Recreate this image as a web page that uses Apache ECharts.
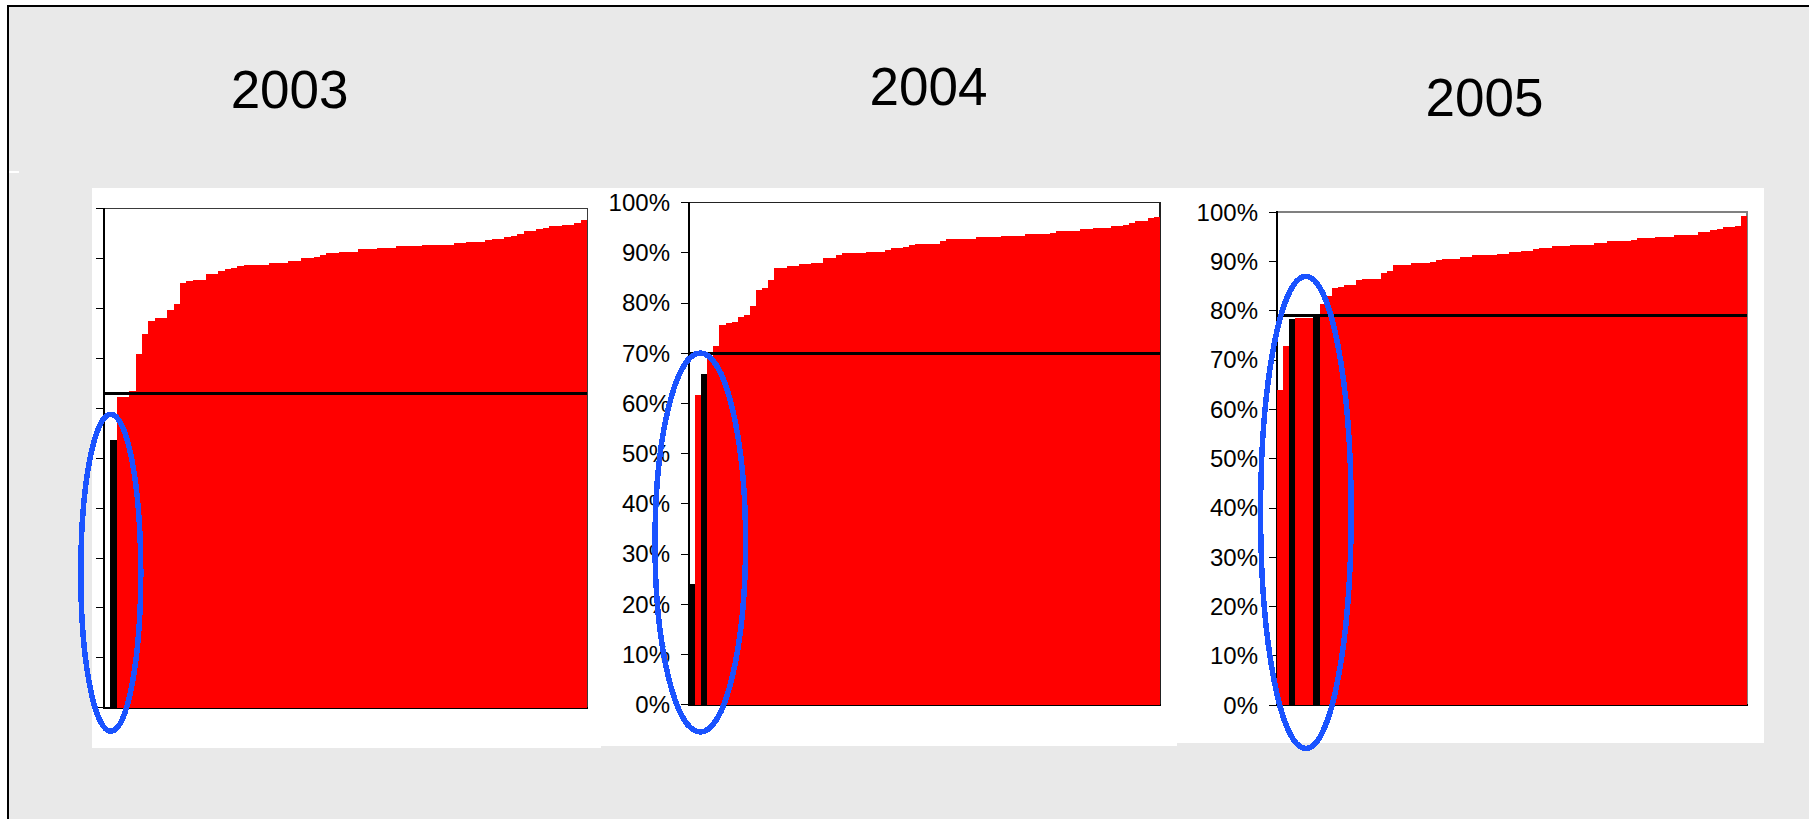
<!DOCTYPE html>
<html>
<head>
<meta charset="utf-8">
<script src="https://cdn.jsdelivr.net/npm/echarts@6/dist/echarts.min.js"></script>
<style>
html,body{margin:0;padding:0;background:#ffffff;}
#chart{width:1809px;height:819px;}
#chart svg rect, #chart svg path { shape-rendering: crispEdges; }
</style>
</head>
<body>
<div id="chart"></div>
<script>
// ---------------- data ----------------
const years = ['2003', '2004', '2005'];

const yTickLabels = ['0%', '10%', '20%', '30%', '40%', '50%', '60%', '70%', '80%', '90%', '100%'];

// share values per unit, sorted (null = empty slot)
const values2003 = [null, 0.536, 0.623, 0.623, 0.634, 0.709, 0.749, 0.775, 0.780, 0.780,
  0.797, 0.809, 0.851, 0.855, 0.857, 0.857, 0.869, 0.869, 0.875, 0.879,
  0.881, 0.885, 0.887, 0.887, 0.887, 0.887, 0.891, 0.891, 0.891, 0.895,
  0.895, 0.901, 0.901, 0.903, 0.907, 0.910, 0.910, 0.913, 0.913, 0.913,
  0.919, 0.919, 0.919, 0.921, 0.921, 0.921, 0.925, 0.925, 0.925, 0.925,
  0.927, 0.927, 0.927, 0.927, 0.927, 0.931, 0.931, 0.933, 0.933, 0.933,
  0.937, 0.939, 0.939, 0.943, 0.945, 0.949, 0.955, 0.955, 0.959, 0.961,
  0.965, 0.965, 0.967, 0.967, 0.971, 0.977];

const values2004 = [0.240, 0.617, 0.658, 0.695, 0.714, 0.756, 0.760, 0.762, 0.772, 0.776,
  0.794, 0.826, 0.830, 0.846, 0.870, 0.870, 0.874, 0.874, 0.878, 0.878,
  0.880, 0.880, 0.889, 0.889, 0.895, 0.899, 0.899, 0.899, 0.899, 0.901,
  0.901, 0.901, 0.905, 0.909, 0.909, 0.911, 0.915, 0.917, 0.917, 0.917,
  0.917, 0.923, 0.927, 0.927, 0.927, 0.927, 0.927, 0.931, 0.931, 0.931,
  0.931, 0.933, 0.933, 0.933, 0.933, 0.937, 0.937, 0.937, 0.937, 0.939,
  0.943, 0.943, 0.943, 0.943, 0.947, 0.947, 0.949, 0.949, 0.949, 0.953,
  0.953, 0.955, 0.959, 0.963, 0.963, 0.969, 0.971];

const values2005 = [0.639, 0.728, 0.783, 0.784, 0.784, 0.784, 0.791, 0.813, 0.830, 0.846,
  0.848, 0.852, 0.852, 0.862, 0.864, 0.864, 0.864, 0.876, 0.880, 0.892,
  0.892, 0.892, 0.897, 0.897, 0.897, 0.898, 0.903, 0.905, 0.905, 0.905,
  0.909, 0.909, 0.913, 0.913, 0.913, 0.913, 0.915, 0.915, 0.919, 0.919,
  0.921, 0.921, 0.925, 0.927, 0.927, 0.931, 0.931, 0.931, 0.933, 0.933,
  0.933, 0.933, 0.937, 0.937, 0.941, 0.941, 0.941, 0.941, 0.943, 0.947,
  0.947, 0.947, 0.949, 0.949, 0.949, 0.953, 0.953, 0.953, 0.953, 0.959,
  0.959, 0.963, 0.965, 0.970, 0.970, 0.972, 0.992];

// positions (indices) of the highlighted (black) units
const black2003 = [1];
const black2004 = [0, 2];
const black2005 = [2, 6];

// horizontal reference lines
const refLine2003 = 0.626;
const refLine2004 = 0.698;
const refLine2005 = 0.787;

// ---------------- layout / style ----------------
const panels = [
  {vals: values2003, blacks: black2003, ref: refLine2003, grid: {left: 104, top: 208.5, width: 483.3, height: 499}, labels: false, border: '#3a3a3a', borderW: 1.5},
  {vals: values2004, blacks: black2004, ref: refLine2004, grid: {left: 689, top: 202.5, width: 471, height: 502}, labels: true, border: '#222222', borderW: 1.2},
  {vals: values2005, blacks: black2005, ref: refLine2005, grid: {left: 1277, top: 212, width: 470.3, height: 493}, labels: true, border: '#808080', borderW: 2}
];

const FONT = '"Liberation Sans", Arial, Helvetica, sans-serif';
const RED = '#ff0000';
const BLUE = '#1a53ff';

const grids = [], xAxes = [], yAxes = [], series = [];
panels.forEach((p, i) => {
  grids.push(Object.assign({show: true, borderColor: p.border, borderWidth: p.borderW, backgroundColor: 'transparent', containLabel: false}, p.grid));
  xAxes.push({
    type: 'category', gridIndex: i,
    data: p.vals.map((v, k) => String(k + 1)),
    axisLine: {show: true, lineStyle: {color: '#000', width: 1.5}},
    axisTick: {show: false}, axisLabel: {show: false}, splitLine: {show: false}, splitArea: {show: false}
  });
  yAxes.push({
    type: 'value', gridIndex: i, min: 0, max: 1, interval: 0.1,
    axisLine: {show: true, lineStyle: {color: '#000', width: 1.5}},
    axisTick: {show: true, length: 8, lineStyle: {color: '#000', width: 1}},
    splitLine: {show: false},
    axisLabel: {
      show: p.labels, margin: 19, fontSize: 24, fontFamily: FONT, color: '#000',
      formatter: v => yTickLabels[Math.round(v * 10)]
    }
  });
  series.push({
    type: 'bar', xAxisIndex: i, yAxisIndex: i,
    barWidth: '106%',
    itemStyle: {color: RED, borderWidth: 0},
    data: p.vals.map((v, k) => {
      const val = (v === null) ? '-' : v;
      return p.blacks.includes(k) ? {value: val, itemStyle: {color: '#000'}} : val;
    }),
    markLine: {
      silent: true, symbol: ['none', 'none'],
      label: {show: false},
      lineStyle: {color: '#000', width: 3, type: 'solid'},
      data: [{yAxis: p.ref}]
    }
  });
});

const titlePos = [{x: 289.6, y: 89}, {x: 928.5, y: 86}, {x: 1484.5, y: 97}];
const ellipses = [
  {cx: 110.8, cy: 572.8, rx: 30, ry: 158.5},
  {cx: 700.3, cy: 542.5, rx: 45.3, ry: 189.5},
  {cx: 1305.9, cy: 512.4, rx: 45.3, ry: 236}
];

const graphics = [
  // page frame
  {type: 'rect', z: -20, shape: {x: 7, y: 5, width: 1802, height: 814}, style: {fill: '#000'}},
  {type: 'rect', z: -19, shape: {x: 9, y: 7, width: 1800, height: 812}, style: {fill: '#e9e9e9'}},
  {type: 'rect', z: -18, shape: {x: 9, y: 171, width: 10, height: 2}, style: {fill: '#ffffff'}},
  // white chart backgrounds
  {type: 'rect', z: -18, shape: {x: 92, y: 188, width: 509, height: 560}, style: {fill: '#ffffff'}},
  {type: 'rect', z: -18, shape: {x: 601, y: 188, width: 576, height: 558}, style: {fill: '#ffffff'}},
  {type: 'rect', z: -18, shape: {x: 1177, y: 188, width: 587, height: 555}, style: {fill: '#ffffff'}}
];
years.forEach((t, i) => {
  graphics.push({
    type: 'text', z: 100, x: titlePos[i].x, y: titlePos[i].y,
    style: {text: t, fontSize: 53, fontFamily: FONT, fill: '#000',
      textAlign: 'center', textVerticalAlign: 'middle', align: 'center', verticalAlign: 'middle'}
  });
});
ellipses.forEach(e => {
  graphics.push({type: 'ellipse', z: 100, shape: e, style: {fill: 'none', stroke: BLUE, lineWidth: 5.5}});
});

const chart = echarts.init(document.getElementById('chart'), null, {renderer: 'svg', width: 1809, height: 819});
chart.setOption({
  animation: false,
  backgroundColor: '#ffffff',
  grid: grids,
  xAxis: xAxes,
  yAxis: yAxes,
  series: series,
  graphic: {elements: graphics}
});
</script>
</body>
</html>
